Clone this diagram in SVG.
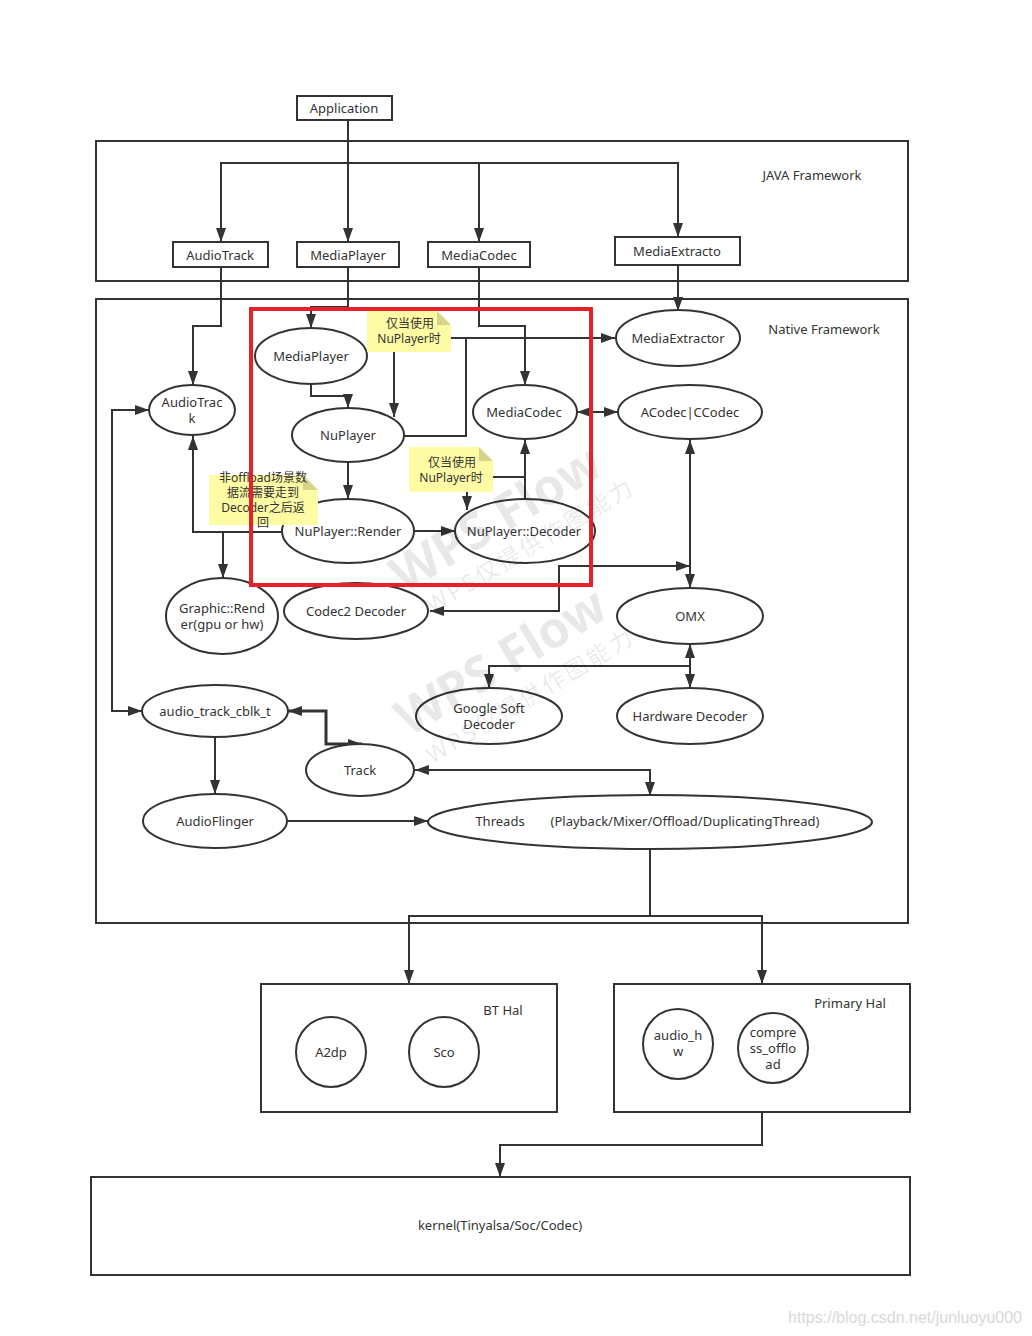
<svg xmlns="http://www.w3.org/2000/svg" width="1032" height="1336" viewBox="0 0 1032 1336">
<defs>
<marker id="ah" markerUnits="userSpaceOnUse" markerWidth="14" markerHeight="10" refX="14" refY="5" orient="auto-start-reverse"><path d="M0,0 L14,5 L0,10 z" fill="#333"/></marker>
<style>
.t{font-family:"Noto Sans","Open Sans","Noto Sans CJK SC",sans-serif;font-size:13px;fill:#333;text-anchor:middle;dominant-baseline:central}
.box{fill:#fff;stroke:#333;stroke-width:2}
.frame{fill:none;stroke:#333;stroke-width:2}
.el{fill:#fff;stroke:#333;stroke-width:2}
.c{fill:none;stroke:#333;stroke-width:2}
.ca{fill:none;stroke:#333;stroke-width:2;marker-end:url(#ah)}
.cb{fill:none;stroke:#333;stroke-width:2;marker-end:url(#ah);marker-start:url(#ah)}
.note{fill:#fdfca5}
.fold{fill:#d6d48a}
.nt{font-family:"Noto Sans","Noto Sans CJK SC",sans-serif;font-size:12px;fill:#333;text-anchor:middle;dominant-baseline:central}
.wm{font-family:"Noto Sans","Noto Sans CJK SC",sans-serif;fill:#000;fill-opacity:0.09;text-anchor:middle;dominant-baseline:central}
</style>
</defs>
<rect width="1032" height="1336" fill="#fff"/>

<g id="java-framework"><rect class="frame" x="96" y="141" width="812" height="140"/><text class="t" x="812" y="175">JAVA Framework</text></g>
<g id="native-framework"><rect class="frame" x="96" y="299" width="812" height="624"/><text class="t" x="824" y="329">Native Framework</text></g>
<g id="bt-hal"><rect class="frame" x="261" y="984" width="296" height="128"/><text class="t" x="503" y="1010">BT Hal</text></g>
<g id="primary-hal"><rect class="frame" x="614" y="984" width="296" height="128"/><text class="t" x="850" y="1003">Primary Hal</text></g>
<g id="kernel"><rect class="frame" x="91" y="1177" width="819" height="98"/><text class="t" x="500" y="1225">kernel(Tinyalsa/Soc/Codec)</text></g>

<g id="connectors">
<path class="ca" d="M348,120 V242"/>
<path class="ca" d="M348,163 H221 V242"/>
<path class="ca" d="M348,163 H479 V242"/>
<path class="ca" d="M479,163 H678 V237"/>
<path class="ca" d="M221,267 V326 H193 V385"/>
<path class="ca" d="M348,267 V307 H311 V328"/>
<path class="ca" d="M479,267 V326 H525 V385"/>
<path class="ca" d="M678,265 V311"/>
<path class="ca" d="M311,384 V396 H348 V408"/>
<path class="ca" d="M394,352 V417"/>
<path class="ca" d="M451,338 H615"/>
<path class="c" d="M404,436 H466 V338"/>
<path class="ca" d="M348,462 V499"/>
<path class="ca" d="M414,531 H455"/>
<path class="ca" d="M525,499 V440"/>
<path class="c" d="M493,477 H525"/>
<path class="ca" d="M467,492 V510"/>
<path class="cb" d="M577,412 H618"/>
<path class="cb" d="M690,440 V588"/>
<path class="ca" d="M559,580 V566 H690"/>
<path class="ca" d="M559,566 V611 H430"/>
<path class="ca" d="M282,532 H193 V436"/>
<path class="ca" d="M223,532 V578"/>
<path class="cb" d="M149,410 H112 V711 H142"/>
<path class="cb" d="M690,644 V688"/>
<path class="ca" d="M690,666 H489 V688"/>
<path class="cb" style="stroke-width:3" d="M288,711 H326 V744 H362"/>
<path class="cb" d="M415,770 H650 V796"/>
<path class="ca" d="M215,737 V794"/>
<path class="ca" d="M287,821 H428"/>
<path class="ca" d="M650,849 V916 H409 V984"/>
<path class="ca" d="M650,916 H762 V984"/>
<path class="ca" d="M762,1112 V1145 H500 V1177"/>
</g>

<g id="application"><rect class="box" x="297" y="96" width="95" height="24"/><text class="t" x="344" y="108">Application</text></g>
<g id="java-audiotrack"><rect class="box" x="173" y="242" width="95" height="25"/><text class="t" x="220" y="255">AudioTrack</text></g>
<g id="java-mediaplayer"><rect class="box" x="297" y="242" width="102" height="25"/><text class="t" x="348" y="255">MediaPlayer</text></g>
<g id="java-mediacodec"><rect class="box" x="428" y="242" width="102" height="25"/><text class="t" x="479" y="255">MediaCodec</text></g>
<g id="java-mediaextracto"><rect class="box" x="615" y="237" width="125" height="28"/><text class="t" x="677" y="251">MediaExtracto</text></g>

<g id="mediaplayer"><ellipse class="el" cx="311" cy="356" rx="56" ry="28"/><text class="t" x="311" y="356">MediaPlayer</text></g>
<g id="nuplayer"><ellipse class="el" cx="348" cy="435" rx="56" ry="27"/><text class="t" x="348" y="435">NuPlayer</text></g>
<g id="nuplayer-render"><ellipse class="el" cx="348" cy="531" rx="66" ry="32"/><text class="t" x="348" y="531">NuPlayer::Render</text></g>
<g id="nuplayer-decoder"><ellipse class="el" cx="525" cy="531" rx="70" ry="32"/><text class="t" x="524" y="531">NuPlayer::Decoder</text></g>
<g id="mediacodec"><ellipse class="el" cx="525" cy="412" rx="52" ry="27"/><text class="t" x="524" y="412">MediaCodec</text></g>
<g id="audiotrack"><ellipse class="el" cx="192" cy="410" rx="43" ry="25"/><text class="t" x="192" y="402">AudioTrac</text><text class="t" x="192" y="418">k</text></g>
<g id="mediaextractor"><ellipse class="el" cx="678" cy="338" rx="62" ry="28"/><text class="t" x="678" y="338">MediaExtractor</text></g>
<g id="acodec"><ellipse class="el" cx="690" cy="412" rx="72" ry="27"/><text class="t" x="690" y="412">ACodec|CCodec</text></g>
<g id="graphic-render"><ellipse class="el" cx="222" cy="616" rx="56" ry="38"/><text class="t" x="222" y="608">Graphic::Rend</text><text class="t" x="222" y="624">er(gpu or hw)</text></g>
<g id="codec2-decoder"><ellipse class="el" cx="356" cy="611" rx="72" ry="28"/><text class="t" x="356" y="611">Codec2 Decoder</text></g>
<g id="omx"><ellipse class="el" cx="690" cy="616" rx="73" ry="28"/><text class="t" x="690" y="616">OMX</text></g>
<g id="google-soft-decoder"><ellipse class="el" cx="489" cy="716" rx="73" ry="28"/><text class="t" x="489" y="708">Google Soft</text><text class="t" x="489" y="724">Decoder</text></g>
<g id="hardware-decoder"><ellipse class="el" cx="690" cy="716" rx="73" ry="28"/><text class="t" x="690" y="716">Hardware Decoder</text></g>
<g id="audio-track-cblk"><ellipse class="el" cx="215" cy="711" rx="73" ry="26"/><text class="t" x="215" y="711">audio_track_cblk_t</text></g>
<g id="track"><ellipse class="el" cx="360" cy="770" rx="54" ry="26"/><text class="t" x="360" y="770">Track</text></g>
<g id="audioflinger"><ellipse class="el" cx="215" cy="821" rx="72" ry="27"/><text class="t" x="215" y="821">AudioFlinger</text></g>
<g id="threads"><ellipse class="el" cx="650" cy="822" rx="222" ry="27"/><text class="t" x="500" y="821">Threads</text><text class="t" x="685" y="821">(Playback/Mixer/Offload/DuplicatingThread)</text></g>
<g id="a2dp"><ellipse class="el" cx="331" cy="1052" rx="35" ry="35"/><text class="t" x="331" y="1052">A2dp</text></g>
<g id="sco"><ellipse class="el" cx="444" cy="1052" rx="35" ry="35"/><text class="t" x="444" y="1052">Sco</text></g>
<g id="audio-hw"><ellipse class="el" cx="678" cy="1044" rx="35" ry="35"/><text class="t" x="678" y="1035">audio_h</text><text class="t" x="678" y="1051">w</text></g>
<g id="compress-offload"><ellipse class="el" cx="773" cy="1048" rx="35" ry="35"/><text class="t" x="773" y="1032">compre</text><text class="t" x="773" y="1048">ss_offlo</text><text class="t" x="773" y="1064">ad</text></g>

<g id="note1"><path class="note" d="M367,311 H437 L451,325 V352 H367 z"/><path class="fold" d="M437,311 L451,325 H437 z"/><text class="nt" x="410" y="323">仅当使用</text><text class="nt" x="409" y="338">NuPlayer时</text></g>
<g id="note2"><path class="note" d="M409,447 H479 L493,461 V492 H409 z"/><path class="fold" d="M479,447 L493,461 H479 z"/><text class="nt" x="452" y="462">仅当使用</text><text class="nt" x="451" y="477">NuPlayer时</text></g>
<g id="note3"><path class="note" d="M209,475 H303 L318,490 V525 H209 z"/><path class="fold" d="M303,475 L318,490 H303 z"/><text class="nt" x="263" y="477">非offload场景数</text><text class="nt" x="263" y="492">据流需要走到</text><text class="nt" x="263" y="507">Decoder之后返</text><text class="nt" x="263" y="522">回</text></g>

<g id="watermark">
<text class="wm" x="495" y="517" font-size="50" font-weight="bold" transform="rotate(-31 495 517)">WPS Flow</text>
<text class="wm" x="530" y="545" font-size="23" letter-spacing="3" transform="rotate(-31 530 545)">WPS仅提供作图能力</text>
<text class="wm" x="500" y="660" font-size="50" font-weight="bold" transform="rotate(-31 500 660)">WPS Flow</text>
<text class="wm" x="530" y="695" font-size="23" letter-spacing="3" transform="rotate(-31 530 695)">WPS仅提供作图能力</text>
</g>

<g id="highlight"><rect x="251" y="309" width="340" height="276" fill="none" stroke="#e8202a" stroke-width="4"/></g>

<text x="1022" y="1323" font-family="Liberation Sans Narrow,Liberation Sans,sans-serif" font-size="16" fill="#d8d8d8" text-anchor="end">https://blog.csdn.net/junluoyu000</text>
</svg>
